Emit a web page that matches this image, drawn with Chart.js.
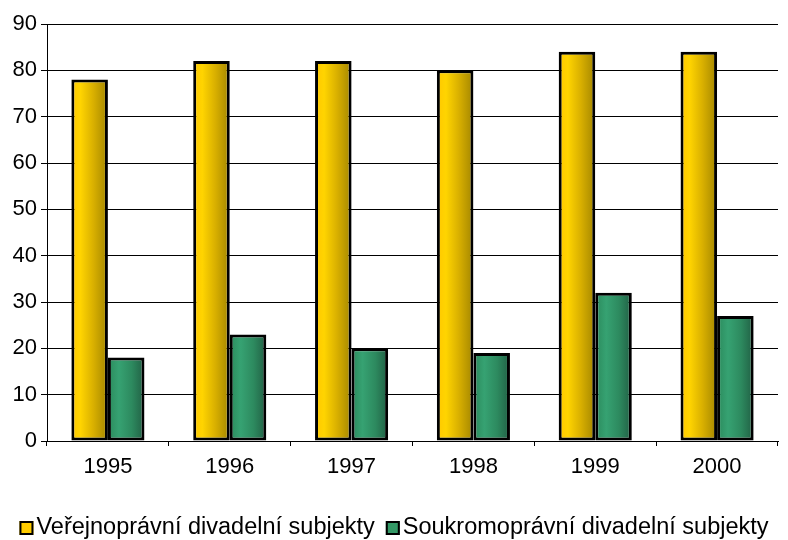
<!DOCTYPE html>
<html>
<head>
<meta charset="utf-8">
<script src="https://cdn.jsdelivr.net/npm/chart.js@4/dist/chart.umd.min.js"></script>
<style>
html,body{margin:0;padding:0;background:#fff;}
#wrap{width:788px;height:540px;}
</style>
</head>
<body>
<div id="wrap"><canvas id="chart" width="788" height="540"></canvas></div>
<script>
let years=["1995","1996","1997","1998","1999","2000"];
let verejne=[78,82,82,80,84,84];
let soukrome=[18,23,20,19,32,27];
let yTicks=[0,10,20,30,40,50,60,70,80,90];
let seriesNames=["Veřejnoprávní divadelní subjekty","Soukromoprávní divadelní subjekty"];

let fontFam="'Liberation Sans', Arial, sans-serif";

let gradStops=[
[[0,"#ffc800"],[0.25,"#ffd400"],[0.6,"#d9b000"],[1,"#a38600"]],
[[0,"#2b8a5c"],[0.3,"#36a272"],[0.65,"#2d8a5f"],[1,"#215f44"]]
];
let flatColors=["#ffcc00","#339966"];

// shade each bar left to right like the old office charts
let shadePlugin={
id:"shade",
beforeDatasetsDraw(chart){
let ctx=chart.ctx;
chart.data.datasets.forEach((ds,i)=>{
let meta=chart.getDatasetMeta(i);
meta.data.forEach(bar=>{
let x0=bar.x-bar.width/2;
let x1=bar.x+bar.width/2;
let g=ctx.createLinearGradient(x0,0,x1,0);
gradStops[i].forEach(s=>g.addColorStop(s[0],s[1]));
bar.options=Object.assign({},bar.options,{backgroundColor:g});
});
});
}
};

// legend drawn by hand so the box sits close to its text
let legendPlugin={
id:"myLegend",
afterDraw(chart){
let ctx=chart.ctx;
ctx.save();
ctx.font="23.5px "+fontFam;
ctx.textBaseline="middle";
let box=14, gapText=3, gapItem=11;
let widths=seriesNames.map(n=>box+gapText+ctx.measureText(n).width);
let total=widths[0]+widths[1]+gapItem;
let x=(chart.width-total)/2;
let y=528;
seriesNames.forEach((n,i)=>{
ctx.fillStyle=flatColors[i];
ctx.fillRect(x,y-box/2,box,box);
ctx.lineWidth=2;
ctx.strokeStyle="#000";
ctx.strokeRect(x+1,y-box/2+1,box-2,box-2);
ctx.fillStyle="#000";
ctx.fillText(n,x+box+gapText,y);
x+=widths[i]+gapItem;
});
ctx.restore();
}
};

new Chart(document.getElementById("chart"),{
type:"bar",
data:{
labels:years,
datasets:[
{label:seriesNames[0],data:verejne,backgroundColor:flatColors[0],borderColor:"#000",borderWidth:3,borderSkipped:false,categoryPercentage:0.6,barPercentage:1},
{label:seriesNames[1],data:soukrome,backgroundColor:flatColors[1],borderColor:"#000",borderWidth:3,borderSkipped:false,categoryPercentage:0.6,barPercentage:1}
]
},
options:{
responsive:false,
animation:false,
layout:{padding:{left:0,right:10,top:24,bottom:48}},
plugins:{legend:{display:false},tooltip:{enabled:false}},
scales:{
x:{
grid:{drawOnChartArea:false,drawTicks:true,tickLength:5,color:"#000",offset:true},
border:{color:"#000",width:1},
ticks:{color:"#000",font:{size:22,family:fontFam},padding:8},
afterFit(s){s.height=51;}
},
y:{
min:0,max:90,
afterBuildTicks(s){s.ticks=yTicks.map(v=>({value:v}));},
grid:{color:"#000",lineWidth:1,tickLength:6},
border:{color:"#000",width:1},
ticks:{color:"#000",font:{size:22,family:fontFam},padding:4},
afterFit(s){s.width=47;}
}
}
},
plugins:[shadePlugin,legendPlugin]
});
</script>
</body>
</html>
